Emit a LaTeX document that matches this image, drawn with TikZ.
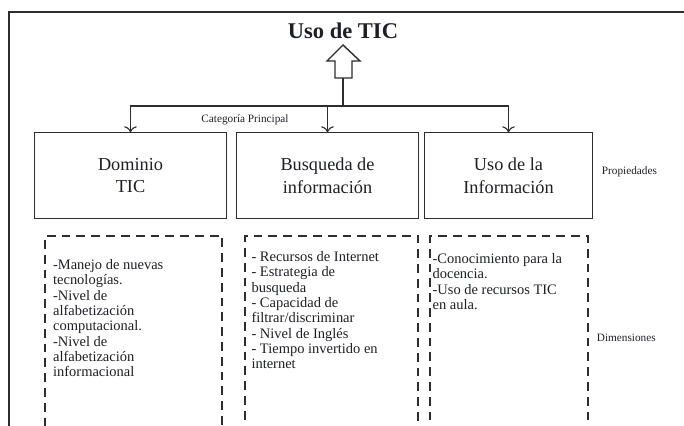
\documentclass[tikz,border=0pt]{standalone}
\usepackage{fontspec}
\setmainfont{Liberation Serif}
\usepackage{tikz}
\usetikzlibrary{arrows.meta,positioning,calc}
\definecolor{ticink}{RGB}{30,30,40}
\definecolor{ticline}{RGB}{45,45,45}

\begin{document}
\begin{tikzpicture}[x=0.025cm, y=-0.025cm,
prop/.style={draw=ticline, line width=0.8pt, align=center, inner sep=0pt,
minimum height=2.13cm, font=\fontsize{13}{16.3}\selectfont, text=ticink},
dimbox/.style={draw=ticline, line width=1.2pt, dash pattern=on 2.2mm off 1.5mm,
minimum height=5.1cm, inner sep=0pt},
dimtext/.style={anchor=north west, align=left, inner sep=0pt,
font=\fontsize{10.3}{10.9}\selectfont, text=ticink},
side/.style={anchor=west, font=\fontsize{8}{9}\selectfont, text=ticink},
arrow/.style={-{To[length=1.5mm]}, line width=0.8pt, draw=ticline},
conn/.style={line width=0.8pt, draw=ticline}
]

\clip (0,0) rectangle (684,426);
\useasboundingbox (0,0) rectangle (684,426);

\draw[line width=1.1pt, draw=ticline] (684,12) -- (9,12) -- (9,426);

\node[font=\fontsize{16}{18}\bfseries, text=ticink] (uso) at (343,31) {Uso de TIC};

\draw[conn, line width=1pt] (343,45) -- (360,61) -- (352,61) -- (352,78)
-- (335,78) -- (335,61) -- (327,61) -- cycle;
\coordinate (stem) at (343,78);
\coordinate (hub) at (343,106);

\node[prop, minimum width=4.78cm] (dom) at (130.5,175.5) {Dominio\\TIC};
\node[prop, minimum width=4.53cm] (bus) at (327.5,175.5) {Busqueda de\\información};
\node[prop, minimum width=4.18cm] (inf) at (508.5,175.5) {Uso de la\\Información};

\draw[conn] (stem) -- (hub);
\draw[arrow] (hub) -| (dom.north);
\draw[arrow] (hub) -| (bus.north);
\draw[arrow] (hub) -| (inf.north);

\node[font=\fontsize{8}{9}\selectfont, text=ticink] (cat) at (245,120) {Categoría Principal};
\node[side] (props) at (597,172) {Propiedades};

\node[dimbox, minimum width=4.43cm] (d1) at (133.5,338) {};
\node[dimbox, minimum width=4.33cm] (d2) at (331.5,338) {};
\node[dimbox, minimum width=3.95cm] (d3) at (509,338) {};

\node[dimtext] (t1) at ([xshift=0.22cm, yshift=-0.6cm]d1.north west)
{-Manejo de nuevas\\tecnologías.\\-Nivel de\\alfabetización\\computacional.\\-Nivel de\\alfabetización\\informacional};
\node[dimtext] (t2) at ([xshift=0.18cm, yshift=-0.4cm]d2.north west)
{- Recursos de Internet\\- Estrategia de\\busqueda\\- Capacidad de\\filtrar/discriminar\\- Nivel de Inglés\\- Tiempo invertido en\\internet};
\node[dimtext] (t3) at ([xshift=0.08cm, yshift=-0.45cm]d3.north west)
{-Conocimiento para la\\docencia.\\-Uso de recursos TIC\\en aula.};

\node[side] (dims) at (592,338) {Dimensiones};

\end{tikzpicture}
\end{document}
